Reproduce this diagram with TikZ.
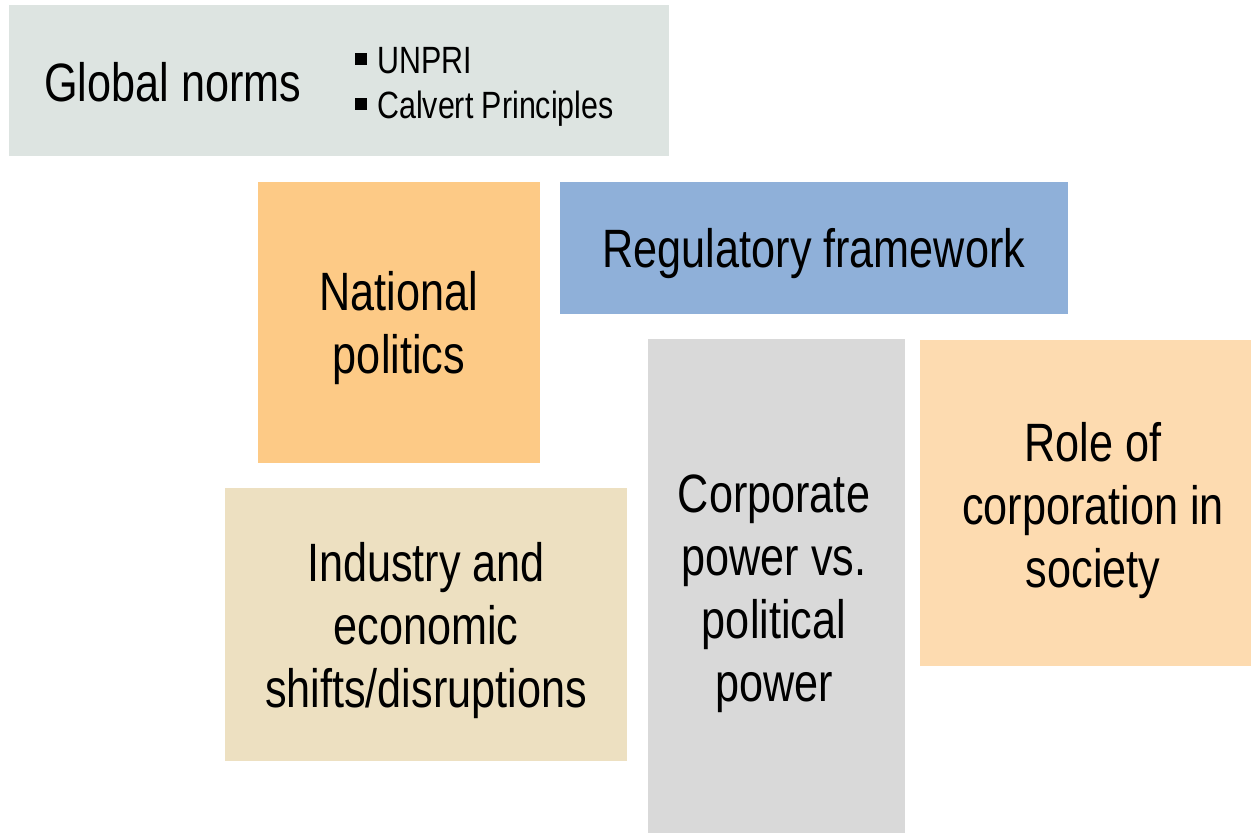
\documentclass[tikz,border=0pt]{standalone}
\usepackage{fontspec}
\setmainfont{Liberation Sans}[FakeStretch=0.8]
\definecolor{normsgray}{HTML}{DDE4E1}
\definecolor{politicsorange}{HTML}{FDCA86}
\definecolor{regblue}{HTML}{8FB0D9}
\definecolor{powergray}{HTML}{D9D9D9}
\definecolor{rolepeach}{HTML}{FDDBB0}
\definecolor{industrysand}{HTML}{EDE0C1}
\newcommand{\normbullet}{\raisebox{8pt}{\rule{12pt}{12pt}}\hspace{10pt}}

\begin{document}
\begin{tikzpicture}[x=1pt,y=-1pt,
    every node/.style={inner sep=0pt},
    block/.style={align=center,text depth=0pt,font=\fontsize{54}{63}\selectfont},
    listitem/.style={anchor=base west,font=\fontsize{38}{44}\selectfont}]
    \useasboundingbox(0,0)rectangle(1251,833);
    \node[fill=normsgray,minimum width=660pt,minimum height=151pt](norms)at(339,80.5){};
    \node[block,anchor=base west](normstitle)at(44,101){Global norms};
    \node[listitem](unpri)at(355,73){\normbullet UNPRI};
    \node[listitem](calvert)at(355,118){\normbullet Calvert Principles};
    \node[block,fill=politicsorange,minimum width=282pt,minimum height=281pt](politics)
      at(399,322.5){National\\politics};
    \node[block,fill=regblue,minimum width=508pt,minimum height=132pt](regulation)
      at(814,248){Regulatory framework};
    \node[fill=powergray,minimum width=257pt,minimum height=494pt](powerbox)at(776.5,586){};
    \node[block](power)at(774,588){Corporate\\power vs.\\political\\power};
    \node[fill=rolepeach,minimum width=331pt,minimum height=326pt](rolebox)at(1085.5,503){};
    \node[block](role)at(1093,505){Role of\\corporation in\\society};
    \node[block,fill=industrysand,minimum width=402pt,minimum height=273pt](industry)
      at(426,624.5){Industry and\\economic\\shifts/disruptions};
  \end{tikzpicture}
\end{document}
